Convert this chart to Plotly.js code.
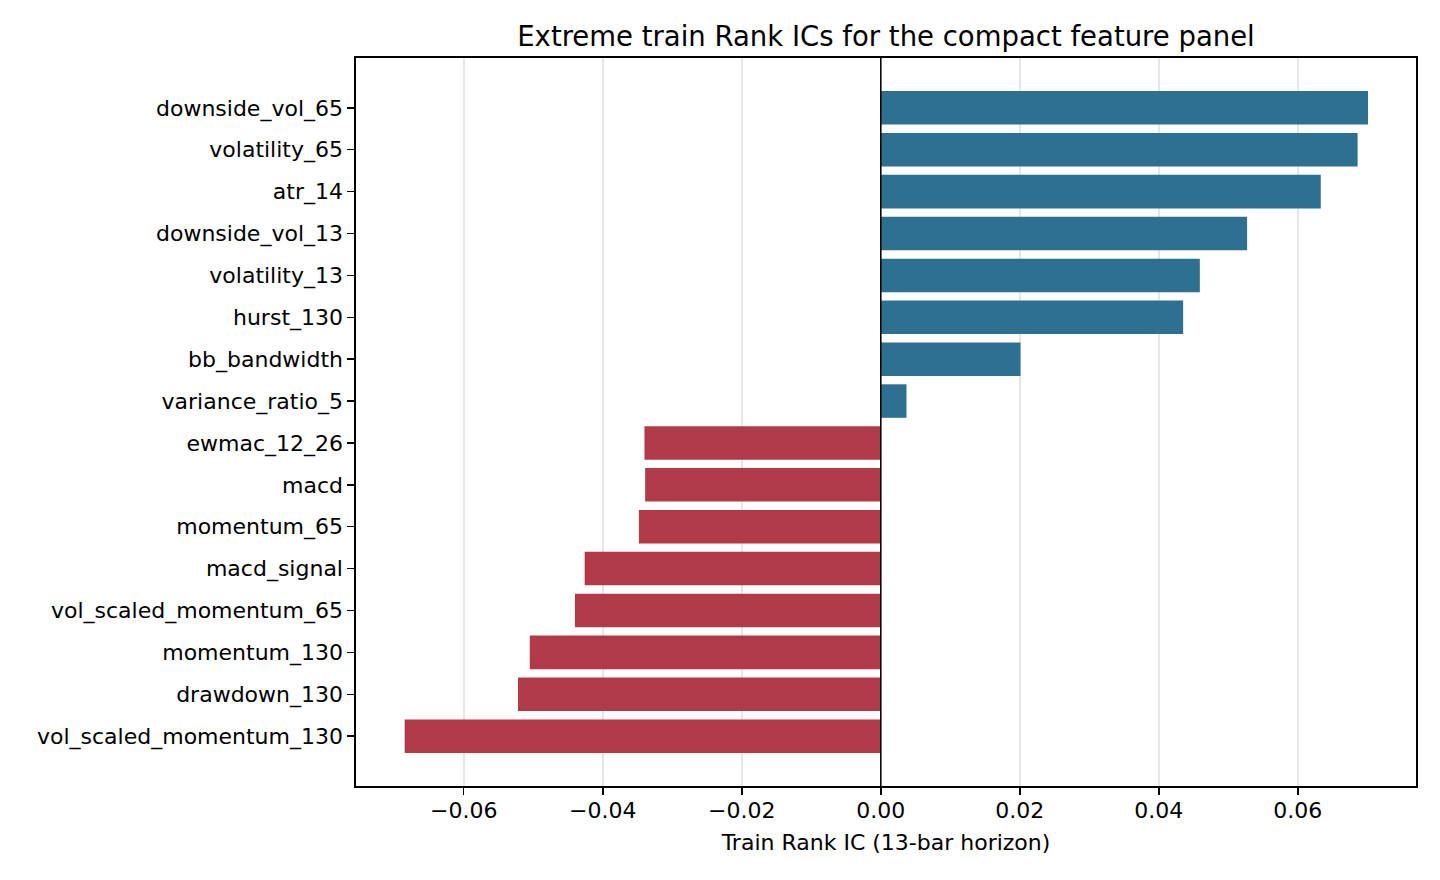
<!DOCTYPE html>
<html>
<head>
<meta charset="utf-8">
<script src="https://cdn.plot.ly/plotly-3.0.1.min.js"></script>
<style>
  html, body { margin: 0; padding: 0; background: #fff; }
  #chart { width: 1440px; height: 880px; }
</style>
</head>
<body>
<div id="chart"></div>
<script>
// features, top of chart first
var features = [
  'downside_vol_65', 'volatility_65', 'atr_14', 'downside_vol_13',
  'volatility_13', 'hurst_130', 'bb_bandwidth', 'variance_ratio_5',
  'ewmac_12_26', 'macd', 'momentum_65', 'macd_signal',
  'vol_scaled_momentum_65', 'momentum_130', 'drawdown_130', 'vol_scaled_momentum_130'
];
var rankIC = [
  0.0701, 0.0686, 0.0633, 0.0527,
  0.0459, 0.0435, 0.0201, 0.0037,
  -0.0340, -0.0339, -0.0348, -0.0426,
  -0.0440, -0.0505, -0.0522, -0.0685
];
var xTicks = [-0.06, -0.04, -0.02, 0.00, 0.02, 0.04, 0.06];

var blue = '#2e7090';
var red = '#b13a48';
var barColors = rankIC.map(function (v) { return v >= 0 ? blue : red; });

var font = 'DejaVu Sans, sans-serif';

var trace = {
  type: 'bar',
  orientation: 'h',
  x: rankIC,
  y: features,
  width: 0.8,
  marker: { color: barColors, line: { width: 0 } },
  hoverinfo: 'x+y'
};

var layout = {
  width: 1440,
  height: 880,
  margin: { l: 356, r: 24, t: 58, b: 94 },
  paper_bgcolor: '#fff',
  plot_bgcolor: '#fff',
  showlegend: false,
  font: { family: font, size: 22, color: '#000' },
  title: {
    text: 'Extreme train Rank ICs for the compact feature panel',
    font: { family: font, size: 27.5, color: '#000' },
    x: 0.5, xref: 'paper', xanchor: 'center',
    y: 1 - 36 / 880, yref: 'container', yanchor: 'middle'
  },
  xaxis: {
    range: [-0.0755, 0.0770],
    tickvals: xTicks,
    tickformat: '.2f',
    ticks: 'outside', ticklen: 7, tickwidth: 1.5, tickcolor: '#000',
    ticklabelstandoff: -3,
    showgrid: true, gridcolor: 'rgba(140,140,140,0.22)', gridwidth: 1.6,
    zeroline: false,
    showline: true, mirror: true, linecolor: '#000', linewidth: 1.6,
    layer: 'above traces',
    tickfont: { family: font, size: 22 },
    title: { text: 'Train Rank IC (13-bar horizon)', font: { family: font, size: 22 }, standoff: 12 }
  },
  yaxis: {
    type: 'category',
    range: [16.19, -1.19],
    ticks: 'outside', ticklen: 7, tickwidth: 1.5, tickcolor: '#000',
    showgrid: false, zeroline: false,
    showline: true, mirror: true, linecolor: '#000', linewidth: 1.6,
    layer: 'above traces',
    tickfont: { family: font, size: 22 }
  },
  shapes: [{
    type: 'line', xref: 'x', yref: 'paper',
    x0: 0, x1: 0, y0: 0, y1: 1,
    line: { color: '#000', width: 1.5 }
  }]
};

Plotly.newPlot('chart', [trace], layout, { displayModeBar: false, staticPlot: true });
</script>
</body>
</html>
